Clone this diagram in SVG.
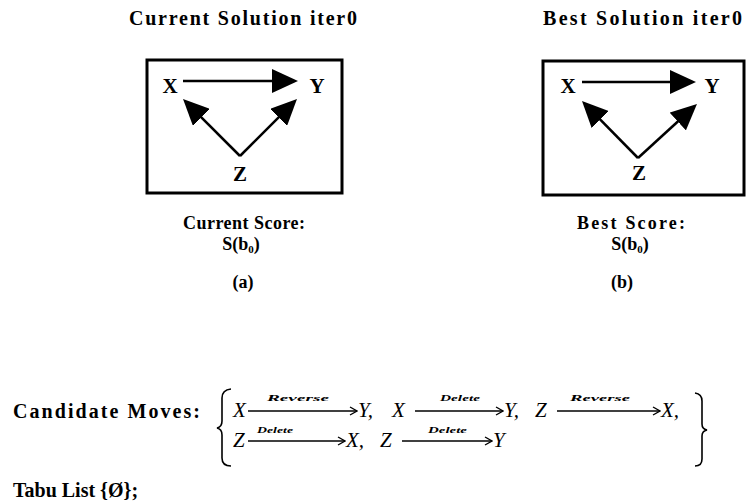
<svg xmlns="http://www.w3.org/2000/svg" width="747" height="502" viewBox="0 0 747 502">
<defs>
<style>
.title{font-family:"Liberation Serif","Times New Roman",serif;font-weight:bold;font-size:20px;fill:#000}
.score{font-family:"Liberation Serif","Times New Roman",serif;font-weight:bold;font-size:18px;fill:#000}
.node{font-family:"Liberation Serif",serif;font-weight:bold;font-size:21px;text-anchor:middle;fill:#000}
.box{fill:none;stroke:#000;stroke-width:3}
.edge{stroke:#000;stroke-width:2.5;fill:none;marker-end:url(#tri)}
.math{font-family:"Liberation Serif",serif;font-style:italic;font-size:21px;fill:#000}
.lab{font-family:"Liberation Serif",serif;font-style:italic;font-weight:bold;font-size:9px;fill:#000}
.marrow{stroke:#000;stroke-width:1.3;fill:none;marker-end:url(#open)}
.brace{stroke:#000;stroke-width:1.6;fill:none}
</style>
<marker id="tri" markerUnits="userSpaceOnUse" markerWidth="26" markerHeight="24" viewBox="0 0 26 24" refX="16" refY="12" orient="auto"><path d="M0,0 L26,12 L0,24 Z" fill="#000"/></marker>
<marker id="open" markerUnits="userSpaceOnUse" markerWidth="9" markerHeight="10" viewBox="0 0 9 10" refX="8" refY="5" orient="auto"><path d="M1,1 L8,5 L1,9" stroke="#000" stroke-width="1.3" fill="none"/></marker>
</defs>
<rect width="747" height="502" fill="#fff"/>

<g id="panel-a">
  <text class="title" x="129" y="25" textLength="228">Current Solution iter0</text>
  <rect class="box" x="147" y="60" width="195" height="133"/>
  <g id="a-X"><text class="node" x="170" y="93">X</text></g>
  <g id="a-Y"><text class="node" x="317" y="93">Y</text></g>
  <g id="a-Z"><text class="node" x="240" y="181">Z</text></g>
  <text class="score" x="244" y="229" text-anchor="middle" textLength="122">Current Score:</text>
  <text class="score" x="241" y="250" text-anchor="middle">S(b<tspan font-size="11" dy="3">0</tspan><tspan dy="-3">)</tspan></text>
  <text class="score" x="243" y="288" text-anchor="middle">(a)</text>
</g>

<g id="panel-b">
  <text class="title" x="543" y="25" textLength="199">Best Solution iter0</text>
  <rect class="box" x="543" y="61" width="201" height="134"/>
  <g id="b-X"><text class="node" x="568" y="93">X</text></g>
  <g id="b-Y"><text class="node" x="712" y="93">Y</text></g>
  <g id="b-Z"><text class="node" x="639" y="180">Z</text></g>
  <text class="score" x="577" y="229" textLength="108">Best Score:</text>
  <text class="score" x="630" y="250" text-anchor="middle">S(b<tspan font-size="11" dy="3">0</tspan><tspan dy="-3">)</tspan></text>
  <text class="score" x="622" y="288" text-anchor="middle">(b)</text>
</g>

<g id="connectors">
  <line class="edge" x1="183" y1="81" x2="288" y2="81"/>
  <line class="edge" x1="240" y1="156" x2="190.1" y2="106.1"/>
  <line class="edge" x1="240" y1="156" x2="289.9" y2="106.1"/>
  <line class="edge" x1="582" y1="82" x2="686" y2="82"/>
  <line class="edge" x1="638" y1="158" x2="589" y2="108.1"/>
  <line class="edge" x1="638" y1="158" x2="689.6" y2="110.75"/>
</g>

<g id="candidate-moves">
  <text class="title" x="13" y="418" textLength="187">Candidate Moves:</text>
  <path class="brace" d="M231,389 Q222,390 222,398 L222,421 Q222,427 217,428 Q222,429 222,435 L222,458 Q222,466 231,466"/>
  <path class="brace" d="M695,393 Q702,394 702,401 L702,424 Q702,429 707,430 Q702,431 702,436 L702,459 Q702,466 695,466"/>
  <text class="math" x="233" y="417">X</text>
  <line class="marrow" x1="248" y1="411" x2="357" y2="411"/>
  <text class="lab" x="267" y="401" textLength="62" lengthAdjust="spacingAndGlyphs">Reverse</text>
  <text class="math" x="358" y="417">Y,</text>
  <text class="math" x="392" y="417">X</text>
  <line class="marrow" x1="415" y1="411" x2="503" y2="411"/>
  <text class="lab" x="440" y="401" textLength="40" lengthAdjust="spacingAndGlyphs">Delete</text>
  <text class="math" x="504" y="417">Y,</text>
  <text class="math" x="535" y="417">Z</text>
  <line class="marrow" x1="557" y1="411" x2="660" y2="411"/>
  <text class="lab" x="570" y="401" textLength="60" lengthAdjust="spacingAndGlyphs">Reverse</text>
  <text class="math" x="661" y="417">X,</text>
  <text class="math" x="233" y="447">Z</text>
  <line class="marrow" x1="248" y1="441" x2="345" y2="441"/>
  <text class="lab" x="257" y="433" textLength="36" lengthAdjust="spacingAndGlyphs">Delete</text>
  <text class="math" x="346" y="447">X,</text>
  <text class="math" x="380" y="447">Z</text>
  <line class="marrow" x1="402" y1="441" x2="492" y2="441"/>
  <text class="lab" x="428" y="433" textLength="39" lengthAdjust="spacingAndGlyphs">Delete</text>
  <text class="math" x="493" y="447">Y</text>
</g>

<g id="tabu-list">
  <text class="title" x="13" y="497" font-size="19">Tabu List {Ø};</text>
</g>
</svg>
